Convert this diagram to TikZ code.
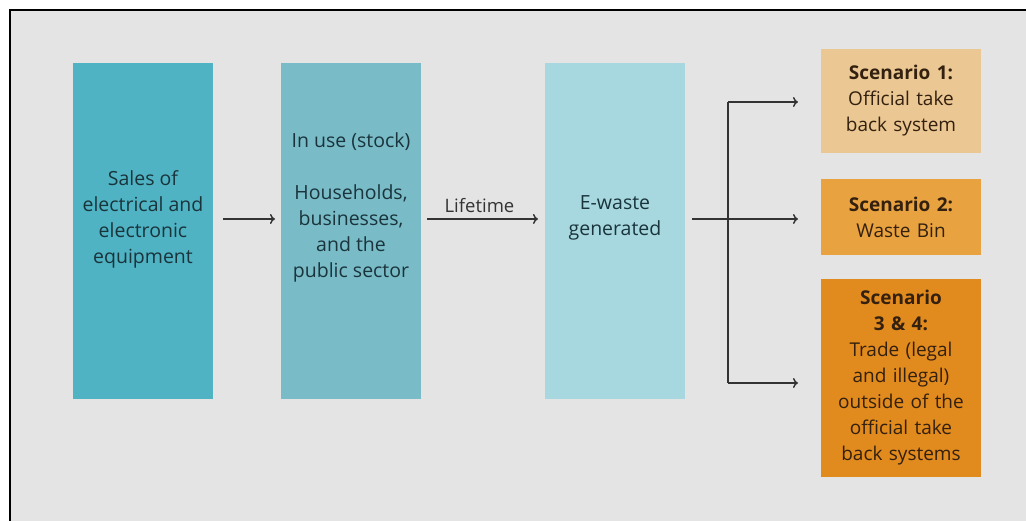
\documentclass[tikz,border=0pt]{standalone}
\usepackage{fontspec}
\setmainfont{Open Sans}
\usetikzlibrary{arrows.meta}
\definecolor{pagebg}{HTML}{E4E4E4}
\definecolor{salesfill}{HTML}{4FB3C3}
\definecolor{usefill}{HTML}{79BCC7}
\definecolor{wastefill}{HTML}{A8D8DF}
\definecolor{scenA}{HTML}{EBC893}
\definecolor{scenB}{HTML}{E8A23F}
\definecolor{scenC}{HTML}{E18A1E}
\definecolor{tealtext}{HTML}{1A343C}
\definecolor{browntext}{HTML}{33200F}
\definecolor{linegrey}{HTML}{333333}
\tikzset{
  flowbox/.style={draw=none, minimum width=140pt, minimum height=336pt, inner sep=0pt},
  flowtext/.style={align=center, text=tealtext, inner sep=0pt, font=\fontsize{19.5}{26}\selectfont},
  scenbox/.style={draw=none, minimum width=160pt, inner sep=0pt, text width=158pt,
    align=center, text=browntext, font=\fontsize{19}{26}\selectfont},
  flow/.style={draw=linegrey, line width=1.4pt, -{To[length=5pt,width=10pt]}},
  branch/.style={draw=linegrey, line width=1.4pt}
}
\begin{document}
\begin{tikzpicture}[x=1pt, y=-1pt]
  \useasboundingbox (0,0) rectangle (1026,521);
  % frame and backdrop
  \fill[white] (0,0) rectangle (1026,521);
  \fill[pagebg] (10,10) rectangle (1026,521);
  \draw[black, line width=2.2pt] (1026,10) -- (10,10) -- (10,521);

  % main stages
  \node[flowbox, fill=salesfill] (sales) at (143,231) {};
  \node[flowbox, fill=usefill] (inuse) at (351,231) {};
  \node[flowbox, fill=wastefill] (ewaste) at (615,231) {};
  \node[flowtext] (salestxt) at ([yshift=12pt]sales.center)
    {Sales of\\electrical and\\electronic\\equipment};
  \node[flowtext] (inusetxt) at ([yshift=24pt]inuse.center)
    {In use (stock)\\[26pt]Households,\\businesses,\\and the\\public sector};
  \node[flowtext] (ewastetxt) at ([yshift=13pt]ewaste.center)
    {E-waste\\generated};

  % scenarios
  \node[scenbox, fill=scenA, minimum height=104pt] (s1) at (901,101)
    {\textbf{Scenario 1:}\\Official take\\back system};
  \node[scenbox, fill=scenB, minimum height=76pt] (s2) at (901,217)
    {\textbf{Scenario 2:}\\Waste Bin};
  \node[scenbox, fill=scenC, minimum height=198pt] (s3) at (901,378)
    {\textbf{Scenario}\\\textbf{3 \& 4:}\\Trade (legal\\and illegal)\\outside of the\\official take\\back systems};

  % connectors
  \coordinate (a1s) at (223,219);
  \coordinate (a1e) at (275,219);
  \draw[flow] (a1s) -- (a1e);

  \coordinate (lts) at (427,219);
  \coordinate (lte) at (538,219);
  \draw[flow] (lts) -- node[above=2pt, xshift=-3pt, text=black!80, font=\fontsize{18.5}{20}\selectfont] (lifetime) {Lifetime} (lte);

  \coordinate (bs) at (692,219);
  \coordinate (btop) at (728,102);
  \coordinate (bbot) at (728,383);
  \coordinate (e1) at (798,102);
  \coordinate (e2) at (798,219);
  \coordinate (e3) at (798,383);
  \draw[branch] (btop) -- (bbot);
  \draw[flow] (bs) -- (e2);
  \draw[flow] (btop) -- (e1);
  \draw[flow] (bbot) -- (e3);
\end{tikzpicture}
\end{document}
